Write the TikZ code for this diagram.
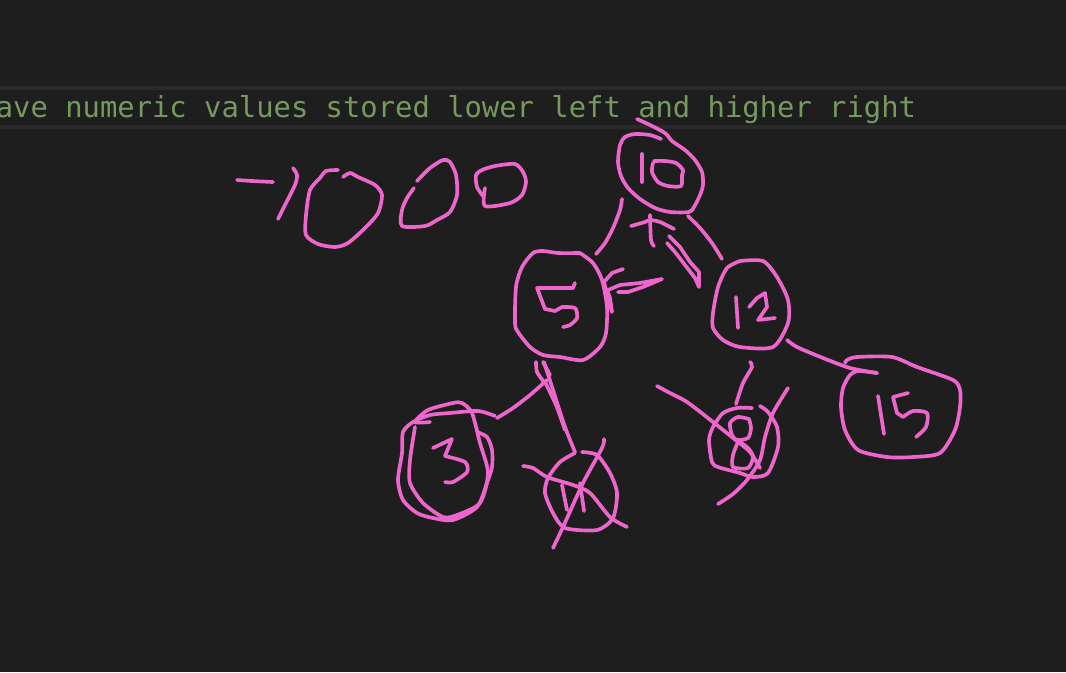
\documentclass[tikz,border=0pt]{standalone}
\usepackage{fontspec}
\newfontfamily\codefont{DejaVu Sans Mono}
\definecolor{bgc}{HTML}{1E1E1E}
\definecolor{bandc}{HTML}{2A2A2A}
\definecolor{inkc}{HTML}{EE66CC}
\definecolor{codec}{HTML}{76995F}
\tikzset{
  ink/.style={draw=inkc,line width=2.75pt,line cap=round,line join=round},
}
\newcommand{\ks}[1]{\draw[ink] plot[smooth,tension=0.45] coordinates {#1};}
\begin{document}
\begin{tikzpicture}[x=0.75pt,y=-0.75pt]
\path[use as bounding box,fill=bgc] (0,0) rectangle (1066,672);
\clip (0,0) rectangle (1066,672);
\fill[bandc] (0,86) rectangle (1066,90);
\fill[bandc] (0,125) rectangle (1066,129);
\node[anchor=base west,inner sep=0pt,text=codec,font=\codefont\fontsize{21.63pt}{24pt}\selectfont] (code) at (-4.4,117) {ave numeric values stored lower left and higher right};
% -1000
\ks{(237,180)(252,181)(273,182)}
\ks{(293,168)(297,175)(295,185)(285,205)(278,219)}
\ks{(338,170)(326,171)(320,178)(310,190)(306,215)(306,235)(318,244)(335,247)(348,243)(365,228)(378,213)(382,195)(375,185)(358,177)(350,173)(343,177)}
\ks{(417,181)(430,168)(443,160)(450,162)(456,175)(457,195)(450,212)(437,220)(425,226)(402,226)(402,210)(407,198)(414,188)}
\ks{(483,196)(477,187)(476,175)(482,170)(495,166)(515,164)(523,172)(526,182)(522,195)(510,203)(485,206)(485,188)}
% 10
\ks{(637,119)(650,125)(665,133)(672,141)(685,150)(695,160)(702,172)(703,185)(700,195)(694,207)(689,212)(670,212)(655,208)(640,199)(628,188)(621,176)(618,162)(620,145)(625,137)(635,134)(650,135)(661,139)}
\ks{(642,154)(642,182)}
\ks{(653,163)(652,172)(658,182)(668,186)(681,186)(682,175)(683,170)(676,163)(665,161)(654,161)}
\ks{(622,199)(620,210)(613,228)(605,243)(596,254)}
\ks{(688,216)(700,228)(712,243)(722,259)}
\ks{(631,226)(645,222)(650,220)(660,222)(674,229)}
\ks{(650,215)(651,240)(654,246)}
\draw[ink] (669,236)--(680,247)--(690,262)--(699,272)--(699,287)--(695,278)--(685,265)--(675,252)--(667,243);
% 5
\ks{(580,253)(593,263)(602,280)(607,307)(606,333)(600,347)(583,360)(560,357)(543,355)(530,347)(518,332)(515,323)(516,287)(522,267)(533,253)(543,251)(558,253)(580,253)}
\draw[ink] (575,283)--(573,288)--(537,288)--(545,309)--(555,311)--(562,307);
\ks{(562,307)(575,308)(577,318)(570,325)(563,327)}
\draw[ink] (623,269)--(612,273)--(604,282)--(608,298)--(612,312)--(610,298)--(607,290);
\draw[ink] (608,290)--(620,285)--(640,283)--(662,279)--(643,287)--(628,292)--(618,292);
% 12
\ks{(740,261)(763,261)(777,277)(788,300)(788,323)(773,347)(740,347)(723,340)(713,328)(713,313)(718,287)(727,268)(740,261)}
\ks{(736,297)(738,328)}
\draw[ink] (749,307)--(757,298)--(765,293)--(767,307)--(758,320)--(775,318);
% 15
\ks{(787,340)(797,347)(823,358)(850,368)(877,373)}
\ks{(877,373)(858,371)(850,375)(843,388)(841,407)(845,430)(858,450)(887,457)(913,457)(940,453)(955,430)(960,407)(960,390)(953,380)(917,367)(892,357)(857,357)(847,360)(845,363)}
\ks{(878,396)(884,434)}
\draw[ink] (908,393)--(893,397)--(897,413)--(903,417);
\ks{(903,417)(913,411)(927,413)(926,427)(916,437)}
% 8
\ks{(750,362)(752,367)(743,383)(736,404)}
\ks{(752,408)(737,408)(723,413)(713,427)(709,440)(712,462)(718,467)(740,473)(753,477)(768,473)(778,447)(777,427)(768,412)(760,406)}
\ks{(749,419)(738,417)(730,423)(732,435)(737,440)(748,438)(751,428)(749,419)}
\ks{(738,442)(733,455)(733,467)(748,468)(753,457)(748,448)(737,440)}
\ks{(657,386)(668,392)(687,402)(713,422)(733,438)(750,452)(760,468)}
\ks{(788,388)(773,413)(765,437)(760,460)(747,480)(733,494)(718,504)}
% branches below 5
\ks{(536,362)(537,372)(544,382)}
\ks{(543,362)(550,375)}
\ks{(544,362)(553,390)(565,427)(575,452)}
\ks{(545,382)(556,405)(565,430)}
\ks{(547,380)(530,395)(513,408)(497,418)}
% 3
\ks{(495,416)(478,411)(450,413)(430,415)(413,422)(403,432)(402,453)(398,480)(403,500)(417,513)(433,518)(453,520)(477,507)(487,483)(492,467)(492,450)(487,437)(477,432)}
\ks{(430,422)(415,422)(428,410)(453,403)(462,403)(472,413)(480,443)(488,473)(480,503)(457,515)(443,517)(423,503)(410,483)(410,460)(415,427)}
\draw[ink] (433,448)--(452,439)--(445,456);
\ks{(445,456)(465,462)(467,472)(453,482)(445,482)}
% crossed 1
\ks{(575,453)(560,462)(548,478)(545,493)(553,513)(565,528)(597,530)(613,518)(617,493)(610,473)(597,455)(582,452)}
\ks{(523,466)(533,468)(547,477)(573,485)(590,493)(610,517)(627,527)}
\ks{(604,439)(602,448)(583,483)(563,527)(553,548)}
\ks{(562,485)(567,510)}
\ks{(580,483)(584,511)}
\end{tikzpicture}
\end{document}
